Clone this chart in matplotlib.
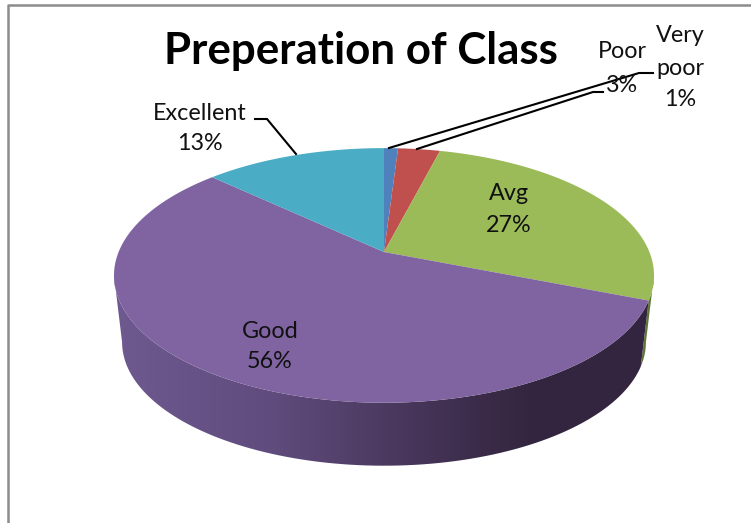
import numpy as np
import matplotlib
matplotlib.use("Agg")
import matplotlib.pyplot as plt
from matplotlib.colors import LinearSegmentedColormap
from matplotlib.patches import Polygon

# chart data
categories = ["Very\npoor", "Poor", "Avg", "Good", "Excellent"]
values = [1, 3, 27, 56, 13]
colors = ["#4F81BD", "#C0504D", "#9BBB59", "#8064A2", "#4BACC6"]
title = "Preperation of Class"

# projection of the pie disc to pixels (tilted, with perspective)
APEX_X, APEX_Y = 384, 252
SX, SY = 265.4, 123
PERSP = 0.184
DEPTH = 67.5
LOWER = 0.97
EDGE_ANGLE = 100.6  # where the rim turns from back to front

FONT = ["Lato", "DejaVu Sans"]
LABEL_SIZE = 16.8


def rim(theta, lower=False):
    """Pixel position of the rim, theta in degrees clockwise from the top."""
    t = np.radians(theta)
    x, y = np.sin(t), np.cos(t)
    d = 1 + PERSP * y
    if lower:
        return APEX_X + LOWER * SX * x / d, APEX_Y + DEPTH - LOWER * SY * y / d
    return APEX_X + SX * x / d, APEX_Y - SY * y / d


def side_poly(a, b):
    th = np.linspace(a, b, 100)
    xt, yt = rim(th)
    xb, yb = rim(th[::-1], lower=True)
    return np.column_stack([np.r_[xt, xb], np.r_[yt, yb]])


fig = plt.figure(figsize=(7.51, 5.23), dpi=100)
ax = fig.add_axes([0, 0, 1, 1])

edges = np.r_[0, np.cumsum(values)] / np.sum(values) * 360
green_end = edges[3]

# side of the pie: green sliver, then shaded purple wall
ax.add_patch(Polygon(side_poly(EDGE_ANGLE, green_end), fc="#5f7536", lw=0))
wall = Polygon(side_poly(green_end, 360 - EDGE_ANGLE), fc="none", lw=0)
ax.add_patch(wall)
shade = LinearSegmentedColormap.from_list(
    "wall", [(0, "#6e5a90"), (0.3, "#5f4b7c"), (0.68, "#3b2b49"), (0.78, "#33253f"), (1, "#33253f")])
img = ax.imshow(np.linspace(0, 1, 256)[None, :], cmap=shade, aspect="auto",
                extent=(113, 655, 480, 270), zorder=1)
img.set_clip_path(wall)

# top surface
for start, end, color in zip(edges[:-1], edges[1:], colors):
    th = np.linspace(start, end, 200)
    x, y = rim(th)
    pts = np.column_stack([np.r_[APEX_X, x], np.r_[APEX_Y, y]])
    ax.add_patch(Polygon(pts, fc=color, lw=0, zorder=2))

# leader lines
leaders = [
    ([255, 267, 296], [119, 119, 154]),
    ([653, 639, 389], [73, 73, 148]),
    ([603, 593, 417], [92, 92, 149]),
]
for lx, ly in leaders:
    ax.plot(lx, ly, color="black", lw=1.5, zorder=3, solid_joinstyle="miter")

# data labels
name_pos = [(680, 52), (622, 52), (509, 193), (270, 331), (200, 113)]
pct_pos = [(680, 100), (622, 86), (509, 226), (270, 362), (200, 144)]
for cat, val, np_, pp in zip(categories, values, name_pos, pct_pos):
    ax.text(np_[0], np_[1], cat, ha="center", va="center", family=FONT,
            fontsize=LABEL_SIZE, color="#111111", zorder=4, linespacing=1.7)
    ax.text(pp[0], pp[1], f"{val}%", ha="center", va="center", family=FONT,
            fontsize=LABEL_SIZE, color="#111111", zorder=4)

ax.text(361, 51, title, ha="center", va="center", family=FONT,
        fontsize=31.6, fontweight="bold", color="black", zorder=4)

# chart frame, only top and left are in view
ax.plot([8, 8, 751], [523, 5, 5], color="#8c8c8c", lw=1.8, zorder=5)

ax.set_xlim(0, 751)
ax.set_ylim(523, 0)
ax.axis("off")

fig.savefig("out.png", dpi=100)
